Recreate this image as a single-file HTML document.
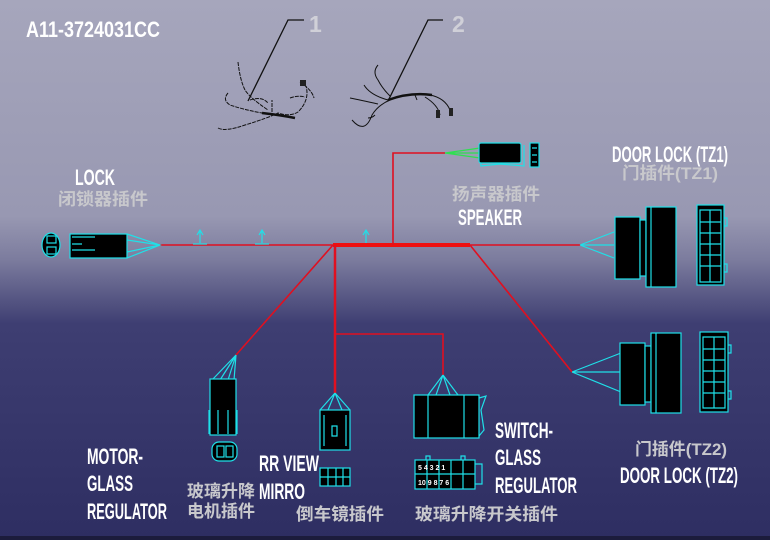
<!DOCTYPE html>
<html><head><meta charset="utf-8"><style>
html,body{margin:0;padding:0;width:770px;height:540px;overflow:hidden}
svg{display:block}
text{font-family:"Liberation Sans Narrow","Liberation Sans","Noto Sans CJK SC",sans-serif;font-weight:bold}
.w{fill:#fff;font-size:22px}
.g{fill:#c8c8cc;font-size:17px;font-family:"Liberation Sans","Noto Sans CJK SC",sans-serif}
.c{stroke:#1fe0e8;stroke-width:1.2;fill:none}
.cb{stroke:#1fe0e8;stroke-width:1.2;fill:#000}
.r{stroke:#e01020;stroke-width:1.6;fill:none}
.k{stroke:#111;stroke-width:1;fill:none}
</style></head><body>
<svg width="770" height="540" viewBox="0 0 770 540">
<defs><linearGradient id="bg" x1="0" y1="0" x2="0" y2="1">
<stop offset="0" stop-color="#a6a6bc"/><stop offset="0.4" stop-color="#9898b2"/>
<stop offset="0.48" stop-color="#7c7c9e"/><stop offset="0.6" stop-color="#3e3e72"/>
<stop offset="1" stop-color="#2e2e62"/></linearGradient></defs>
<rect width="770" height="540" fill="url(#bg)"/>
<rect y="536" width="770" height="4" fill="#1c1c3c"/>

<text class="w" x="26" y="37" font-size="26" textLength="134" lengthAdjust="spacingAndGlyphs">A11-3724031CC</text>
<polyline points="248,101 288,20 304,20" stroke="#111" fill="none" stroke-width="1.3"/>
<polyline points="388,101 428,20 443,20" stroke="#111" fill="none" stroke-width="1.3"/>
<text x="309" y="32" fill="#d0d0d8" font-size="23">1</text>
<text x="452" y="32" fill="#d0d0d8" font-size="23">2</text>
<!-- harness sketches -->
<path class="k" d="M218,128 Q225,132 245,125 Q268,118 278,113 Q290,117 298,112 Q310,100 306,86 M238,62 Q240,80 245,90 Q250,98 268,110 M228,93 Q222,100 230,105 Q245,110 262,113 M250,100 Q262,96 268,103 M300,82 Q312,90 314,98 M290,98 Q298,95 305,97 M272,112 L272,100" stroke-dasharray="4,1"/>
<path d="M262,113 Q280,115 295,118" stroke="#111" stroke-width="2.5" fill="none"/>
<rect x="300" y="80" width="6" height="6" fill="#222"/>
<path class="k" d="M352,120 Q365,135 372,115 Q378,105 390,100 Q410,92 430,95 Q445,98 450,110 M350,98 Q360,100 378,104 M364,85 Q370,95 388,100 M378,65 Q372,72 378,80 Q382,88 390,96 M375,115 Q372,118 368,118 M425,97 Q438,105 440,115 M415,95 L417,100"/>
<path d="M388,100 Q410,92 432,95" stroke="#111" stroke-width="2.5" fill="none"/>
<rect x="436" y="110" width="4" height="8" fill="#222"/><rect x="449" y="108" width="4" height="8" fill="#222"/>

<!-- wires -->
<line class="r" x1="160" y1="245" x2="582" y2="245"/>
<line x1="333" y1="245" x2="470" y2="245" stroke="#ee1010" stroke-width="4"/>
<polyline class="r" points="393,245 393,153 445,153"/>
<line class="r" x1="333" y1="245" x2="236" y2="355"/>
<polyline points="335,245 335,393" stroke="#e01020" stroke-width="2.5" fill="none"/>
<polyline class="r" points="335,334 443,334 443,375"/>
<line class="r" x1="470" y1="245" x2="572" y2="372"/>
<!-- arrows -->
<g class="c" stroke-width="1.5"><path d="M200,243 V231 M197,235 L200,230 L203,235 M193,244 H207"/><path d="M262,243 V231 M259,235 L262,230 L265,235 M255,244 H269"/><path d="M366,243 V231 M363,235 L366,230 L369,235"/></g>

<!-- LOCK connector -->
<ellipse class="cb" cx="51" cy="245" rx="9" ry="12"/>
<rect class="cb" x="47" y="236" width="9" height="7"/><rect class="cb" x="47" y="247" width="9" height="7"/>
<rect class="cb" x="70" y="234" width="57" height="24"/>
<path class="c" d="M72,237 H95 M72,250 H95 M72,244 H82 M127,234 L160,245 L127,258 M127,240 L160,245 L127,252"/>
<text class="w" x="75" y="185" textLength="40" lengthAdjust="spacingAndGlyphs">LOCK</text>
<text class="g" x="58" y="205" textLength="90" lengthAdjust="spacingAndGlyphs">闭锁器插件</text>

<!-- speaker -->
<path d="M445,153 L480,148 M445,153 L480,158 M445,153 L480,153" stroke="#2ee050" stroke-width="1.3"/>
<rect class="cb" x="479" y="143" width="42" height="20" rx="2"/>
<path class="c" d="M481,163 L481,166 L500,164 L524,166 V145"/>
<rect class="cb" x="530" y="143" width="9" height="24"/>
<path class="c" d="M532,148 H537 M532,155 H537 M532,162 H537"/>
<text class="g" x="452" y="200" textLength="88" lengthAdjust="spacingAndGlyphs">扬声器插件</text>
<text class="w" x="458" y="225" textLength="64" lengthAdjust="spacingAndGlyphs">SPEAKER</text>

<!-- Door lock TZ1 -->
<text class="w" x="612" y="162" textLength="116" lengthAdjust="spacingAndGlyphs">DOOR LOCK (TZ1)</text>
<text class="g" x="622" y="179" textLength="96" lengthAdjust="spacingAndGlyphs">门插件(TZ1)</text>
<path class="c" d="M580,245 L614,232 M580,245 L614,245 M580,245 L614,258"/>
<g id="dl">
<rect class="cb" x="615" y="217" width="25" height="62"/>
<rect class="cb" x="640" y="220" width="6" height="56"/>
<rect class="cb" x="646" y="207" width="30" height="80"/>
<line class="c" x1="651" y1="207" x2="651" y2="287"/>
</g>
<rect class="cb" x="697" y="205" width="27" height="80"/>
<path class="c" d="M710,210 V282 M700,210 H721 V282 H700 Z M700,222 H721 M700,233 H721 M700,244 H721 M700,255 H721 M700,266 H721 M724,218 h3 v8 h-3 M724,264 h3 v8 h-3"/>

<!-- Door lock TZ2 -->
<path class="c" d="M572,372 L621,353 M572,372 L621,372 M572,372 L621,392"/>
<use href="#dl" transform="translate(5,126)"/>
<rect class="cb" x="700" y="332" width="28" height="80"/>
<path class="c" d="M714,337 V408 M703,337 H725 V408 H703 Z M703,349 H725 M703,360 H725 M703,371 H725 M703,382 H725 M703,393 H725 M728,345 h3 v8 h-3 M728,391 h3 v8 h-3"/>
<text class="g" x="635" y="455" textLength="92" lengthAdjust="spacingAndGlyphs">门插件(TZ2)</text>
<text class="w" x="620" y="483" textLength="118" lengthAdjust="spacingAndGlyphs">DOOR LOCK (TZ2)</text>

<!-- motor -->
<path class="c" d="M236,355 L212,380 M236,355 L220,380 M236,355 L228,380 M236,355 L234,380"/>
<rect class="cb" x="210" y="379" width="26" height="56"/>
<path class="c" d="M209,410 V434 M237,410 V434 M218,410 V434 M228,410 V434"/>
<rect class="cb" x="212" y="442" width="25" height="19" rx="7"/>
<rect class="c" x="217" y="446" width="7" height="11"/><rect class="c" x="226" y="446" width="7" height="11"/>
<text class="w" x="87" y="464" textLength="56" lengthAdjust="spacingAndGlyphs">MOTOR-</text>
<text class="w" x="87" y="491" textLength="46" lengthAdjust="spacingAndGlyphs">GLASS</text>
<text class="w" x="87" y="519" textLength="80" lengthAdjust="spacingAndGlyphs">REGULATOR</text>
<text class="g" x="187" y="497" textLength="68" lengthAdjust="spacingAndGlyphs">玻璃升降</text>
<text class="g" x="187" y="517" textLength="68" lengthAdjust="spacingAndGlyphs">电机插件</text>

<!-- RR view -->
<path class="c" d="M335,393 L320,410 M335,393 L350,410 M335,393 L328,410 M335,393 L342,410"/>
<rect class="cb" x="320" y="410" width="30" height="40"/>
<path class="c" d="M324,415 V446 M346,415 V446 M332,426 h5 v10 h-5 Z"/>
<rect class="cb" x="320" y="468" width="30" height="18"/>
<path class="c" d="M320,477 H350 M328,468 V486 M336,468 V486 M343,468 V486"/>
<text class="w" x="259" y="471" textLength="60" lengthAdjust="spacingAndGlyphs">RR VIEW</text>
<text class="w" x="259" y="499" textLength="46" lengthAdjust="spacingAndGlyphs">MIRRO</text>
<text class="g" x="296" y="520" textLength="88" lengthAdjust="spacingAndGlyphs">倒车镜插件</text>

<!-- switch -->
<path class="c" d="M443,375 L428,395 M443,375 L458,395 M443,375 L436,395 M443,375 L450,395"/>
<rect class="cb" x="414" y="395" width="65" height="43"/>
<path class="c" d="M428,395 V438 M464,395 V438 M479,398 L486,396 L481,410 L484,430 L479,436"/>
<rect class="cb" x="415" y="460" width="60" height="29"/>
<path class="c" d="M415,474 H475 M427,460 V489 M439,460 V489 M451,460 V489 M463,460 V489 M475,464 h7 v20 h-7 M426,460 v-4 h4 v4 M461,460 v-4 h4 v4"/>
<g fill="#fff" font-size="7" font-family="Liberation Sans"><text x="418" y="470">5 4 3 2 1</text><text x="418" y="485">10 9 8 7 6</text></g>
<text class="w" x="495" y="438" textLength="58" lengthAdjust="spacingAndGlyphs">SWITCH-</text>
<text class="w" x="495" y="465" textLength="46" lengthAdjust="spacingAndGlyphs">GLASS</text>
<text class="w" x="495" y="493" textLength="82" lengthAdjust="spacingAndGlyphs">REGULATOR</text>
<text class="g" x="415" y="520" textLength="143" lengthAdjust="spacingAndGlyphs">玻璃升降开关插件</text>
</svg>
</body></html>
